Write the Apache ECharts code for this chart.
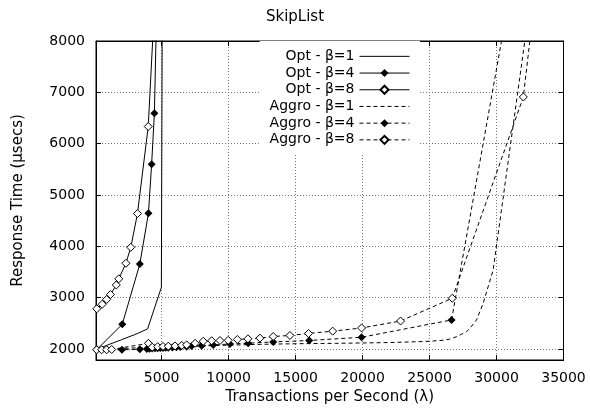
<!DOCTYPE html>
<html><head><meta charset="utf-8">
<script src="https://cdn.jsdelivr.net/npm/echarts@6/dist/echarts.min.js"></script>
<style>html,body{margin:0;padding:0;background:#fff}#c{width:590px;height:416px}</style>
</head><body><div id="c"></div>
<script>
const xTicks = [5000, 10000, 15000, 20000, 25000, 30000, 35000];
const yTicks = [2000, 3000, 4000, 5000, 6000, 7000, 8000];
const seriesNames = ['Opt - β=1', 'Opt - β=4', 'Opt - β=8', 'Aggro - β=1', 'Aggro - β=4', 'Aggro - β=8'];

const optB1X = [150, 1000, 2000, 3000, 3950, 4980, 5050];
const optB1Y = [1990, 2080, 2180, 2280, 2390, 3200, 9000];

const optB4X = [170, 2060, 3370, 4015, 4253, 4460, 4657];
const optB4Y = [1990, 2480, 3653, 4643, 5597, 6594, 9000];

const optB8X = [160, 560, 900, 1180, 1615, 1800, 2336, 2698, 3195, 4000, 4525];
const optB8Y = [2783, 2870, 2965, 3060, 3247, 3367, 3670, 3981, 4637, 6334, 9000];

const aggB1X = [150, 2000, 4000, 6000, 8000, 10000, 12000, 14000, 16000, 18000, 20000, 22000, 24000, 25000, 26000, 26500, 27016, 27400, 27762, 28100, 28508, 29001, 29375, 29748, 32645];
const aggB1Y = [1990, 2010, 2030, 2045, 2060, 2075, 2088, 2098, 2105, 2110, 2117, 2125, 2140, 2150, 2170, 2190, 2240, 2290, 2337, 2430, 2565, 2890, 3214, 3539, 9000];

const aggB4X = [150, 2037, 3370, 3900, 4100, 4300, 4500, 4700, 4900, 5100, 5300, 5500, 5800, 6100, 6400, 6866, 7239, 7985, 8851, 10097, 11463, 13330, 16016, 19925, 26643, 31062];
const aggB4Y = [1985, 1985, 1993, 2000, 2005, 2008, 2012, 2015, 2018, 2020, 2023, 2026, 2030, 2035, 2040, 2045, 2058, 2064, 2078, 2097, 2113, 2137, 2165, 2228, 2565, 9000];

const aggB8X = [150, 522, 895, 1269, 4015, 4300, 4700, 5100, 5500, 6000, 6500, 6866, 7500, 8105, 8733, 9352, 9970, 10650, 11440, 12337, 13330, 14575, 15968, 17770, 19925, 22837, 26695, 32000, 32935];
const aggB8Y = [1985, 1985, 1985, 1990, 2110, 2035, 2045, 2050, 2055, 2060, 2070, 2080, 2110, 2150, 2160, 2165, 2168, 2185, 2198, 2211, 2243, 2263, 2302, 2347, 2409, 2545, 2988, 6909, 9000];

const FONT = 'DejaVu Sans';
const zip = (xs, ys) => xs.map((x, i) => [x, ys[i]]);
const DASH = [4, 3];
const filled = { color: '#000' };
const open = { color: '#fff', borderColor: '#000', borderWidth: 1 };

function mk(name, xs, ys, dashed, marker) {
  return {
    name, type: 'line', data: zip(xs, ys),
    symbol: marker ? 'diamond' : 'none', symbolSize: 8,
    showAllSymbol: true, clip: true, animation: false,
    lineStyle: { color: '#000', width: 1, type: dashed ? DASH : 'solid' },
    itemStyle: marker === 'open' ? open : filled,
    emphasis: { disabled: true }
  };
}

const legendData = seriesNames.map((n, i) => (i === 0 || i === 3)
  ? { name: n, itemStyle: { opacity: 0 } } : { name: n });

const chart = echarts.init(document.getElementById('c'), null, { renderer: 'canvas' });
const axisCommon = { axisLine: { show: true, onZero: false, lineStyle: { color: '#000', width: 1 } } };
const fmt = v => String(v);
chart.setOption({
  animation: false,
  backgroundColor: '#fff',
  title: { text: 'SkipList', left: 'center', top: 10, padding: 0,
    textStyle: { fontFamily: FONT, fontSize: 15, fontWeight: 'normal', color: '#000' } },
  grid: { left: 96, right: 26.5, top: 41, bottom: 56, show: true, borderColor: '#000', borderWidth: 1 },
  legend: {
    orient: 'vertical', align: 'right', right: 170, top: 41,
    padding: [7, 10, 5, 10], backgroundColor: '#fff',
    itemWidth: 50, itemHeight: 10, itemGap: 0,
    lineStyle: { width: 1 },
    textStyle: { fontFamily: FONT, fontSize: 14, color: '#000', lineHeight: 16.7 },
    data: legendData
  },
  xAxis: [
    Object.assign({ type: 'value', min: 100, max: 35000, position: 'bottom',
      axisTick: { inside: true, length: 5, customValues: xTicks, lineStyle: { color: '#000' } },
      axisLabel: { customValues: xTicks, formatter: fmt, margin: 11, color: '#000', fontFamily: FONT, fontSize: 14 },
      splitLine: { show: true, lineStyle: { type: [1, 2], color: '#777', width: 1 } },
      name: 'Transactions per Second (λ)', nameLocation: 'middle', nameGap: 29,
      nameTextStyle: { fontFamily: FONT, fontSize: 15, color: '#000' } }, axisCommon),
    Object.assign({ type: 'value', min: 100, max: 35000, position: 'top',
      axisTick: { inside: true, length: 5, customValues: xTicks, lineStyle: { color: '#000' } },
      axisLabel: { show: false }, splitLine: { show: false } }, axisCommon)
  ],
  yAxis: [
    Object.assign({ type: 'value', min: 1785, max: 8000, position: 'left',
      axisTick: { inside: true, length: 5, customValues: yTicks, lineStyle: { color: '#000' } },
      axisLabel: { customValues: yTicks, formatter: fmt, margin: 11, color: '#000', fontFamily: FONT, fontSize: 14 },
      splitLine: { show: true, lineStyle: { type: [1, 2], color: '#777', width: 1 } },
      name: 'Response Time (μsecs)', nameLocation: 'middle', nameGap: 70,
      nameTextStyle: { fontFamily: FONT, fontSize: 15, color: '#000' } }, axisCommon),
    Object.assign({ type: 'value', min: 1785, max: 8000, position: 'right',
      axisTick: { inside: true, length: 5, customValues: yTicks, lineStyle: { color: '#000' } },
      axisLabel: { show: false }, splitLine: { show: false } }, axisCommon)
  ],
  series: [
    mk(seriesNames[0], optB1X, optB1Y, false, null),
    mk(seriesNames[1], optB4X, optB4Y, false, 'filled'),
    mk(seriesNames[2], optB8X, optB8Y, false, 'open'),
    mk(seriesNames[3], aggB1X, aggB1Y, true, null),
    mk(seriesNames[4], aggB4X, aggB4Y, true, 'filled'),
    mk(seriesNames[5], aggB8X, aggB8Y, true, 'open')
  ]
});
</script></body></html>
